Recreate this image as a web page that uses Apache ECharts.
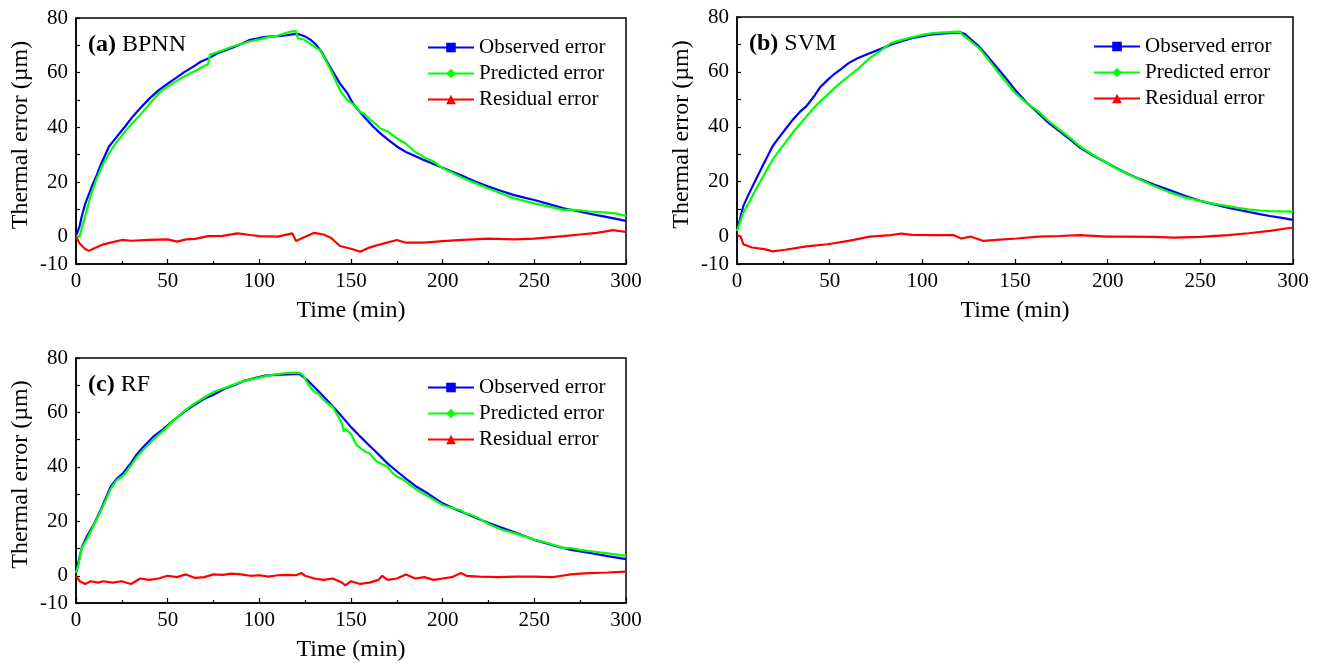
<!DOCTYPE html>
<html>
<head>
<meta charset="utf-8">
<script src="https://cdn.jsdelivr.net/npm/echarts@6/dist/echarts.min.js"></script>
<style>html,body{margin:0;padding:0;background:#fff}#c{width:1320px;height:666px}</style>
</head>
<body>
<div id="c"></div>
<script>
// ---------- Panel (a) BPNN ----------
const aObsT  = [0,1,2,3,5,7,9,11,13,15,18,21,24,27,31,35,40,45,50,55,59,64,68,73,77,82,86,90,95,100,105,110,114,118,120,122,125,128,131,134,137,140,144,148,151,155,159,162,166,170,175,180,184,190,195,200,205,211,218,225,232,239,245,250,258,266,275,284,292,300];
const aObsV  = [0.5,2,4,7,12,15.5,19,22,25.5,28.5,33,35.5,38,40.5,44,47,50.5,53.5,56,58.3,60.2,62.2,64,65.5,67,68.3,69.3,70.5,72,72.7,73.2,73.4,73.6,74,74.2,74,73.2,72,70.2,67.5,64,60.5,56,52.5,48.8,45.5,42.5,40.3,37.8,35.6,33,31,29.8,28,26.6,25.2,23.8,22.2,20.1,18.3,16.7,15.2,14.2,13.4,11.9,10.4,9.1,7.9,6.9,5.8];
const aPreT  = [0,2,3.5,5.5,8,11,14,18,22,26,30,35,40,46,50,55,60,66,70,72,73,75,80,85,90,95,100,105,110,112,115,117,120,121,124,127,130,133,135,138,140,143,145,148,151,155,158,160,163,166,170,175,180,184,190,195,200,205,211,218,225,232,239,245,250,258,266,270,275,280,284,290,295,300];
const aPreV  = [0,0,4,8.7,15,20.8,25.5,30.5,34.5,37.8,41,44.5,48.5,53,55,57,59,61,62.5,63,66.5,67,68.2,69.5,70.5,71.5,72.2,73,73.5,74,74.6,75,75.2,72.6,72.2,71,69.5,68.3,66,62.2,59.5,55,52.5,50,48.5,45.7,44.5,43,41.5,39.6,38.5,36,34,31.5,29,27.5,25,23.5,21.5,19.5,17.6,15.8,14,13,12.2,11,9.8,9.9,9.6,9.2,9.1,8.8,8.4,7.6];
const aResT  = [0,2,5,7,10,15,20,25,30,40,50,55,60,65,72,80,88,95,100,110,118,120,125,130,135,139,144,151,155,160,166,175,180,190,200,211,225,239,250,266,275,284,293,300];
const aResV  = [0,-2.5,-4.5,-5.2,-4.2,-2.8,-2,-1.2,-1.5,-1.2,-1,-1.8,-1,-0.8,0.2,0.3,1.2,0.6,0.2,0,1.2,-1.6,0,1.4,0.8,-0.4,-3.4,-4.6,-5.5,-4,-2.8,-1.2,-2.2,-2.2,-1.6,-1.2,-0.7,-1,-0.7,0.2,0.8,1.4,2.4,1.7];

// ---------- Panel (b) SVM ----------
const bObsT  = [0,1.5,3.4,6,10.2,14,19.3,22,26,30,34,37.5,42,45,48.9,53,57,60.2,65,71.6,77,83,88,94.3,100,105.7,112,117,120.5,123,126,130.7,135,139.8,145,150,156,162.5,168,173.9,180,185.2,192,199.5,207.9,215,225,233,242,250,257,264.8,270,276,282,287.5,294,300];
const bObsV  = [2.5,6,11.1,15,20.8,26,33,35.5,39,42.5,45.5,47.5,51.5,54.5,57.1,59.5,61.5,63.2,65,66.8,68.2,69.9,71,72.3,73,73.7,74,74.2,74.4,73.8,72,69.2,65.8,62,57.8,53.5,49,45,41.5,38.4,35.2,32.3,29.5,26.9,23.8,21.6,19,17,14.8,13,11.8,10.5,9.8,9,8.2,7.5,6.8,6.1];
const bPreT  = [0,3.4,7,10.2,15,19.3,23,26,30,34,37.5,43,48.9,54,60.2,66,71.6,77,83,88,94.3,100,105.7,112,117,120.5,121.6,125,130.7,135,139.8,145,150,156,162.5,168,174,180,185,192,199.5,207,215,225,233,242,250,257,265,270,276,282,287.5,294,300];
const bPreV  = [2,8.7,13,17.2,23,28.1,31.5,34.1,37.8,41,43.8,48,51.7,55,58.4,61.5,65,67.5,70.5,71.5,72.6,73.5,74.1,74.4,74.6,74.7,73.5,71.8,68.6,65,60.8,56.5,52.3,48.8,45.6,42.2,39,35.8,32.9,29.8,26.9,24,21.5,18.4,16.2,14.2,13,12,11.1,10.5,9.9,9.5,9.3,9.2,9.1];
const bResT  = [0,2,3.4,8,14.8,19.3,26,37.5,48.9,60.2,71.6,83,88.6,94.3,105.7,117,121,126,133,140,151,162.5,174,185,199.5,208,225,236,250,265,276,287.5,300];
const bResV  = [0.5,0,-2.8,-4,-4.6,-5.4,-4.8,-3.6,-2.8,-1.6,0,0.5,1.1,0.6,0.5,0.5,-0.7,0,-1.6,-1.2,-0.7,0,0.2,0.5,0,0,-0.1,-0.4,-0.1,0.5,1.2,2.1,3.3];

// ---------- Panel (c) RF ----------
const cObsT  = [0,1.5,3.3,6,10,14,18.9,22,25.6,30,33,36.7,42,47.8,53,58.9,64,70,75,81,87,92.2,98,103.3,109,115,119,122,126,132,137,143,150,155,159,165,170,175,181,186,192,200,207,214.4,220,225.6,232,240,250,260,270,281,290,300];
const cObsV  = [1,5.5,10.7,14.5,19.3,25,32.7,35.5,37.6,41.5,44.5,47.3,51,54,57,60.1,62.5,65,66.5,68.7,70.2,71.7,72.7,73.5,73.8,74,74.1,74.1,72,68,64.5,60.1,54.6,51.2,48.5,44.6,41.2,38.4,35.1,32.6,30.2,26.6,24.4,22.3,20.8,19.3,17.7,15.8,13.2,11.2,9.5,8.3,7.2,6.1];
const cPreT  = [0,1.5,3,6,10,14,19,22,26,30,33,37,42,48,53,59,62,64,70,75,81,87,92,98,103,109,115,119,122,124,127,130,132,136,140,143,145,146,147,150,153,155,158,160,164,167,170,173,175,178,181,186,190,195,200,205,210,212,215,220,225,232,240,250,260,266,270,275,281,290,300];
const cPreV  = [1,4.5,10,13.5,19,24.5,32,35,37,40.5,43.5,46.5,50,53.5,57,60.5,62,63,65.5,67.5,69,70.5,71.7,72.5,73.3,74,74.5,74.6,74.5,73.5,70,67.5,67,64,62,58.5,56,53,54,52,48,47,45.5,45,42,41,40,37.5,36.5,35.5,34,31.5,30,28,26,25,24,23,22.5,21,19,17,15.5,13.3,11.5,10.2,10.2,9.5,9,8.2,7.3];
const cResT  = [0,2,5,8,12,15,20,25,30,35,40,45,50,55,60,65,70,75,80,85,90,95,100,105,110,115,120,123,125,130,135,140,145,147,150,155,160,165,167,170,175,180,185,190,195,200,205,210,213,220,230,240,250,260,265,270,275,280,290,300];
const cResV  = [0,-2,-3,-2,-2.5,-2,-2.5,-2,-3,-1,-1.5,-1,0,-0.5,0.5,-0.8,-0.5,0.5,0.3,0.8,0.5,0,0.2,-0.3,0.2,0.3,0.2,1,0,-1,-1.5,-1,-2.5,-3.5,-2,-3,-2.5,-1.5,0,-1.5,-1,0.5,-1,-0.5,-1.5,-1,-0.5,1,0,-0.3,-0.5,-0.3,-0.3,-0.5,0,0.5,0.8,1,1.2,1.5];

const seriesNames = ['Observed error','Predicted error','Residual error'];
const seriesColors = ['#0000ff','#00ff00','#ff0000'];
const seriesSymbols = ['rect','diamond','triangle'];
const panelLabels = [['(a)',' BPNN'],['(b)',' SVM'],['(c)',' RF']];
const yLabelValues = [-10,0,20,40,60,80];

const FONT = '"Liberation Serif","Times New Roman",serif';
const zip = (t, v) => t.map((x, i) => [x, v[i]]);
const panels = [
  {grid:{left:76, top:18, width:550, height:246}, legendLeft:422, data:[zip(aObsT,aObsV), zip(aPreT,aPreV), zip(aResT,aResV)]},
  {grid:{left:737, top:17, width:556, height:247}, legendLeft:1088, data:[zip(bObsT,bObsV), zip(bPreT,bPreV), zip(bResT,bResV)]},
  {grid:{left:76, top:358, width:550, height:245}, legendLeft:422, data:[zip(cObsT,cObsV), zip(cPreT,cPreV), zip(cResT,cResV)]}
];

const option = {
  backgroundColor:'#fff',
  animation:false,
  title:[], grid:[], xAxis:[], yAxis:[], legend:[], series:[]
};

panels.forEach((p, i) => {
  option.grid.push(Object.assign({show:true, borderColor:'#000', borderWidth:1.5, backgroundColor:'transparent'}, p.grid));
  option.title.push({
    text:'{b|' + panelLabels[i][0] + '}{n|' + panelLabels[i][1] + '}',
    left:p.grid.left + 7, top:p.grid.top + 10,
    textStyle:{fontWeight:'normal', rich:{
      b:{fontFamily:FONT, fontSize:24, fontWeight:'bold', color:'#000'},
      n:{fontFamily:FONT, fontSize:24, fontWeight:'normal', color:'#000'}
    }}
  });
  option.xAxis.push({
    type:'value', gridIndex:i, min:0, max:300, interval:50,
    name:'Time (min)', nameLocation:'middle', nameGap:35,
    nameTextStyle:{fontFamily:FONT, fontSize:24, color:'#000'},
    axisLine:{onZero:false, lineStyle:{color:'#000', width:1.5}},
    axisTick:{inside:true, length:5, lineStyle:{color:'#000', width:1.2}},
    minorTick:{show:true, splitNumber:2, length:3, lineStyle:{color:'#000', width:1.2}},
    splitLine:{show:false},
    axisLabel:{fontFamily:FONT, fontSize:21, color:'#000', margin:7}
  });
  option.yAxis.push({
    type:'value', gridIndex:i, min:-10, max:80, interval:10,
    name:'Thermal error (\u00b5m)', nameLocation:'middle', nameGap:43,
    nameTextStyle:{fontFamily:FONT, fontSize:24, color:'#000', padding:[0,0,0,12]},
    axisLine:{onZero:false, lineStyle:{color:'#000', width:1.5}},
    axisTick:{inside:true, length:4, lineStyle:{color:'#000', width:1.2}},
    splitLine:{show:false},
    axisLabel:{fontFamily:FONT, fontSize:21, color:'#000', margin:8,
      formatter: v => (yLabelValues.indexOf(v) >= 0 ? String(v) : '')}
  });
  option.legend.push({
    orient:'vertical',
    left:p.legendLeft, top:p.grid.top + 14,
    itemWidth:46, itemHeight:12, itemGap:5,
    data:seriesNames,
    textStyle:{fontFamily:FONT, fontSize:21, color:'#000'}
  });
  p.data.forEach((d, k) => {
    option.series.push({
      name:seriesNames[k], type:'line', xAxisIndex:i, yAxisIndex:i,
      data:d, showSymbol:false, symbol:seriesSymbols[k], symbolSize:8,
      color:seriesColors[k],
      lineStyle:{width:2.2, color:seriesColors[k]},
      itemStyle:{color:seriesColors[k]}
    });
  });
});

const chart = echarts.init(document.getElementById('c'), null, {renderer:'canvas'});
chart.setOption(option);
</script>
</body>
</html>
